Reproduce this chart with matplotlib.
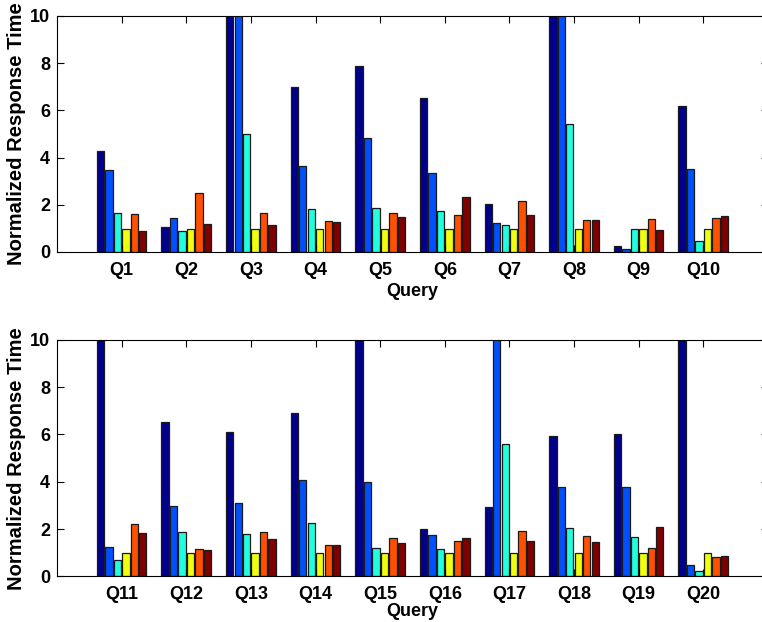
import numpy as np
import matplotlib.pyplot as plt

plt.rcParams['font.family'] = ['Liberation Sans', 'DejaVu Sans']
plt.rcParams['font.weight'] = 'bold'

# values; bars running off the top (>10) set to 12
top_labels = ['Q1', 'Q2', 'Q3', 'Q4', 'Q5', 'Q6', 'Q7', 'Q8', 'Q9', 'Q10']
top_s1 = [4.27, 1.04, 12.0, 6.97, 7.88, 6.54, 2.02, 12.0, 0.24, 6.18]
top_s2 = [3.47, 1.44, 12.0, 3.65, 4.85, 3.33, 1.21, 12.0, 0.11, 3.50]
top_s3 = [1.65, 0.89, 5.00, 1.82, 1.86, 1.72, 1.16, 5.43, 0.97, 0.47]
top_s4 = [0.99, 0.99, 0.99, 0.99, 0.99, 0.99, 0.99, 0.99, 0.99, 0.99]
top_s5 = [1.59, 2.50, 1.65, 1.31, 1.65, 1.55, 2.14, 1.37, 1.40, 1.45]
top_s6 = [0.90, 1.18, 1.14, 1.27, 1.48, 2.33, 1.57, 1.37, 0.92, 1.54]

bot_labels = ['Q11', 'Q12', 'Q13', 'Q14', 'Q15', 'Q16', 'Q17', 'Q18', 'Q19', 'Q20']
bot_s1 = [12.0, 6.52, 6.10, 6.89, 12.0, 2.01, 2.92, 5.92, 6.04, 12.0]
bot_s2 = [1.25, 2.98, 3.12, 4.07, 4.00, 1.76, 12.0, 3.77, 3.77, 0.47]
bot_s3 = [0.69, 1.86, 1.78, 2.28, 1.21, 1.14, 5.60, 2.03, 1.68, 0.24]
bot_s4 = [1.00, 1.00, 1.00, 1.00, 1.00, 1.00, 1.00, 1.00, 1.00, 1.00]
bot_s5 = [2.20, 1.14, 1.89, 1.34, 1.61, 1.51, 1.93, 1.69, 1.20, 0.82]
bot_s6 = [1.82, 1.11, 1.57, 1.34, 1.40, 1.62, 1.48, 1.44, 2.09, 0.87]

# jet-like colours as seen in the picture
colors = ['#00008C', '#0050FF', '#20FFE0', '#F0FF10', '#FF5000', '#800000']

fig = plt.figure(figsize=(7.62, 6.22), dpi=100)
ax_top = fig.add_axes([0.0748, 0.5949, 0.933, 0.3794])
ax_bot = fig.add_axes([0.0748, 0.0732, 0.933, 0.3805])


def draw(ax, labels, series, xpad):
    x = np.arange(1, len(labels) + 1)
    step = 0.131
    for k, vals in enumerate(series):
        ax.bar(x + (k - 2.5) * step, vals, width=0.113, color=colors[k],
               edgecolor='#1a1a1a', linewidth=0.9)
    ax.set_xlim(0, len(labels) + 1)
    ax.set_ylim(0, 10)
    ax.set_xticks(x)
    ax.set_xticklabels(labels)
    ax.set_yticks([0, 2, 4, 6, 8, 10])
    ax.tick_params(direction='in', length=5, width=0.8, top=True, right=True,
                   labelsize=13, pad=5)
    ax.tick_params(axis='x', pad=7)
    for lab in ax.get_xticklabels() + ax.get_yticklabels():
        lab.set_fontweight('bold')
    for sp in ax.spines.values():
        sp.set_linewidth(0.8)
    ax.set_xlabel('Query', fontsize=13, fontweight='bold', labelpad=xpad)
    ax.set_ylabel('Normalized Response Time', fontsize=14.5, fontweight='bold',
                  labelpad=3)


draw(ax_top, top_labels, [top_s1, top_s2, top_s3, top_s4, top_s5, top_s6], 3)
draw(ax_bot, bot_labels, [bot_s1, bot_s2, bot_s3, bot_s4, bot_s5, bot_s6], 0)

fig.savefig('out.png', dpi=100)
